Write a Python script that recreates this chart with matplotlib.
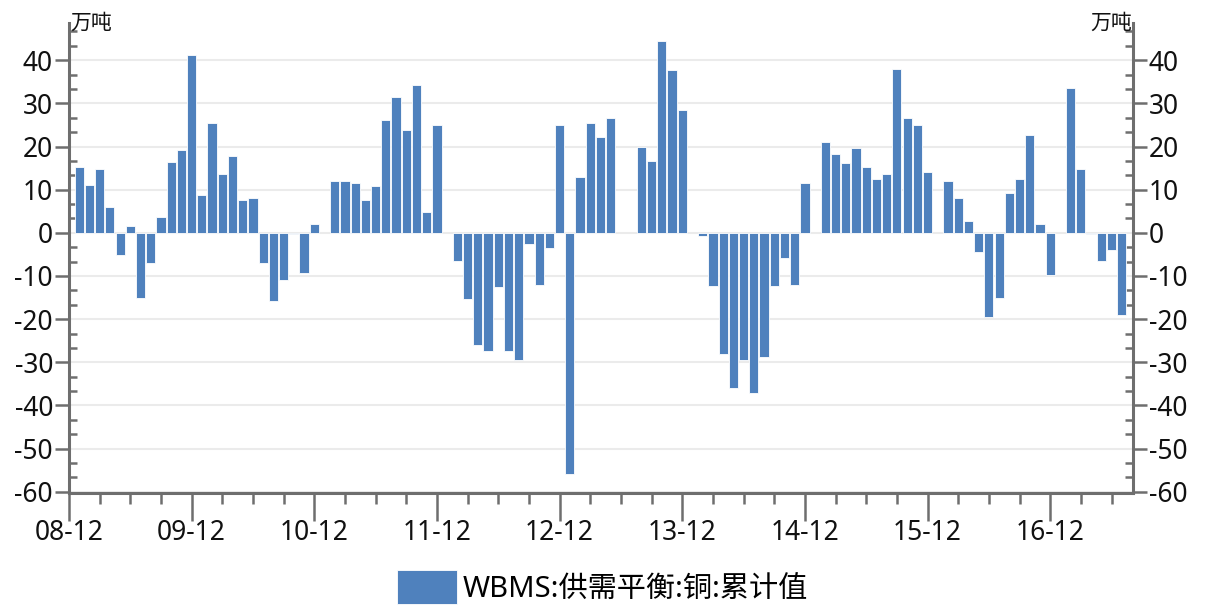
import numpy as np
import pandas as pd
import matplotlib
matplotlib.use("Agg")
import matplotlib.pyplot as plt
from matplotlib.ticker import MultipleLocator, FixedLocator

plt.rcParams['font.family'] = ['Noto Sans', 'Noto Sans CJK SC', 'DejaVu Sans']
plt.rcParams['axes.unicode_minus'] = False

# ---- data (万吨), monthly from 2009-01 to 2017-07; NaN = no value ----
start_month = "2009-01"
end_month = "2017-07"
values = [
    15.3, 11.2, 14.9, 6.0, -5.2, 1.5, -15.0, -6.9, 3.6, 16.5, 19.3, 41.2,      # 2009
    8.8, 25.4, 13.7, 17.7, 7.6, 8.0, -6.9, -15.8, -11.0, -0.3, -9.4, 2.0,      # 2010
    np.nan, 12.1, 12.1, 11.6, 7.6, 10.8, 26.2, 31.5, 23.8, 34.3, 4.8, 25.0,    # 2011
    np.nan, -6.5, -15.4, -25.9, -27.5, -12.6, -27.5, -29.5, -2.5, -12.1, -3.6, 25.0,  # 2012
    -55.8, 12.9, 25.4, 22.2, 26.7, np.nan, np.nan, 19.8, 16.6, 44.5, 37.7, 28.4,     # 2013
    np.nan, -0.7, -12.4, -28.2, -36.0, -29.5, -37.1, -28.7, -12.4, -5.9, -12.1, 11.6,  # 2014
    np.nan, 21.0, 18.2, 16.1, 19.7, 15.3, 12.5, 13.7, 37.9, 26.6, 25.0, 14.1,  # 2015
    np.nan, 12.1, 8.0, 2.8, -4.5, -19.4, -15.0, 9.3, 12.5, 22.6, 2.0, -9.7,    # 2016
    np.nan, 33.5, 14.9, -0.2, -6.5, -4.0, -19.0,                               # 2017
]
axis_origin = "2008-12"
tick_labels = ['08-12', '09-12', '10-12', '11-12', '12-12', '13-12', '14-12', '15-12', '16-12']
series_name = 'WBMS:供需平衡:铜:累计值'
unit_label = '万吨'
y_ticks = [40, 30, 20, 10, 0, -10, -20, -30, -40, -50, -60]

months = pd.period_range(start_month, end_month, freq='M')
origin = pd.Period(axis_origin, freq='M')
x = np.array([(m - origin).n for m in months])
vals = np.array(values, dtype=float)

W, H = 1205, 605
fig = plt.figure(figsize=(W / 100, H / 100), dpi=100)
ax = fig.add_axes([69 / W, 1 - 493 / H, (1133 - 69) / W, (493 - 22.7) / H])

bar_color = '#4F81BD'
mask = ~np.isnan(vals)
ax.bar(x[mask], vals[mask], width=0.9, color=bar_color, edgecolor='white',
       linewidth=0.6, zorder=3, label=series_name)

ax.set_xlim(0, 104.1)
ax.set_ylim(-60.3, 48.7)

spine_col = '#6E6E6E'
for s in ['left', 'right', 'bottom']:
    ax.spines[s].set_color(spine_col)
    ax.spines[s].set_linewidth(2.2)
ax.spines['top'].set_visible(False)

# grid
ax.yaxis.set_major_locator(FixedLocator(y_ticks))
ax.yaxis.set_minor_locator(MultipleLocator(10 / 3))
ax.grid(axis='y', which='major', color='#EBEBEB', linewidth=1.5, zorder=0)
ax.set_axisbelow(True)

# x ticks
tick_pos = [(pd.Period('20' + t.split('-')[0] + '-' + t.split('-')[1], freq='M') - origin).n
            for t in tick_labels]
ax.xaxis.set_major_locator(FixedLocator(tick_pos))
ax.set_xticklabels(tick_labels)
ax.xaxis.set_minor_locator(MultipleLocator(3))

lab_col = '#111111'
ax.tick_params(axis='x', which='major', direction='out', length=20, width=1.8,
               color=spine_col, labelsize=19, labelcolor=lab_col, pad=-1)
ax.tick_params(axis='x', which='minor', direction='out', length=8, width=1.8,
               color=spine_col)
ax.tick_params(axis='y', which='major', direction='out', length=10, width=1.8,
               color=spine_col, labelsize=19, labelcolor=lab_col, pad=1.5,
               left=True, right=True, labelleft=True, labelright=True)
ax.tick_params(axis='y', which='minor', direction='in', length=6, width=1.8,
               color=spine_col, left=True, right=True)

# unit labels
fig.text(70 / W, 1 - 23 / H, unit_label, ha='left', va='center', fontsize=15,
         color=lab_col)
fig.text(1132 / W, 1 - 23 / H, unit_label, ha='right', va='center', fontsize=15,
         color=lab_col)

# legend
fig.legend(loc='upper center', bbox_to_anchor=(0.5, 1 - 570 / H), frameon=False,
           fontsize=21, handlelength=2.05, handleheight=1.4, handletextpad=0.2,
           borderpad=0, borderaxespad=0)

fig.savefig('out.png', dpi=100)
